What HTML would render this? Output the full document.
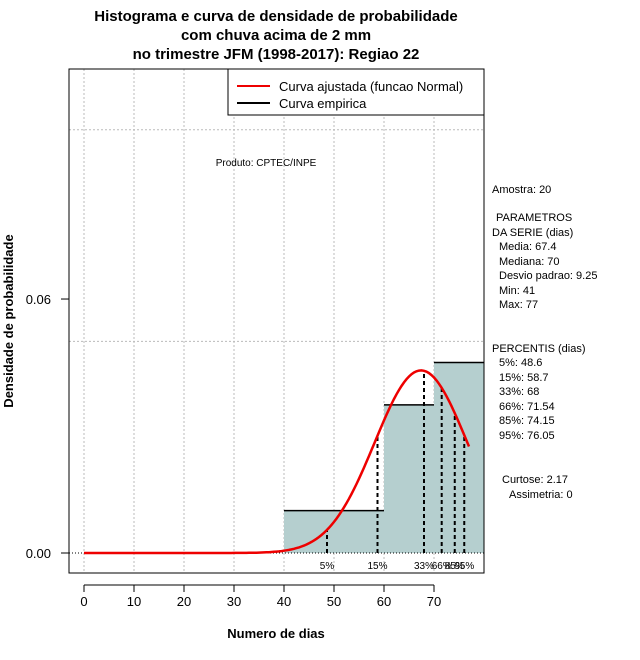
<!DOCTYPE html>
<html><head><meta charset="utf-8"><style>
body{margin:0;background:#fff}
svg{display:block;font-family:"Liberation Sans",sans-serif}
</style></head><body>
<svg id="c" width="640" height="660" xmlns="http://www.w3.org/2000/svg">
<rect width="640" height="660" fill="#fff"/>
<g font-weight="bold" font-size="15" text-anchor="middle">
<text x="276" y="21">Histograma e curva de densidade de probabilidade</text>
<text x="276" y="40">com chuva acima de 2 mm</text>
<text x="276" y="59">no trimestre JFM (1998-2017): Regiao 22</text>
</g>
<g id="grid"></g><g id="bars"></g><g id="marks"></g>
<rect x="69" y="69" width="415" height="504" fill="none" stroke="#000"/>
<g id="axes" font-size="13"></g>
<text x="276" y="638" font-size="13" font-weight="bold" text-anchor="middle">Numero de dias</text>
<text transform="translate(13,321) rotate(-90)" font-size="13" font-weight="bold" text-anchor="middle">Densidade de probabilidade</text>
<text x="266" y="166" font-size="10" text-anchor="middle">Produto: CPTEC/INPE</text>
<g>
<rect x="228" y="69" width="256" height="46" fill="#fff" stroke="#000"/>
<line x1="237" y1="86" x2="270" y2="86" stroke="#e00" stroke-width="2"/>
<text x="279" y="91" font-size="13">Curva ajustada (funcao Normal)</text>
<line x1="237" y1="103" x2="270" y2="103" stroke="#000" stroke-width="2"/>
<text x="279" y="108" font-size="13">Curva empirica</text>
</g>
<g font-size="11">
<text x="492" y="193">Amostra: 20</text>
<text x="496" y="221">PARAMETROS</text>
<text x="492" y="236">DA SERIE (dias)</text>
<text x="499" y="250">Media: 67.4</text>
<text x="499" y="265">Mediana: 70</text>
<text x="499" y="279">Desvio padrao: 9.25</text>
<text x="499" y="294">Min: 41</text>
<text x="499" y="308">Max: 77</text>
<text x="492" y="352">PERCENTIS (dias)</text>
<text x="499" y="366">5%: 48.6</text>
<text x="499" y="381">15%: 58.7</text>
<text x="499" y="395">33%: 68</text>
<text x="499" y="410">66%: 71.54</text>
<text x="499" y="424">85%: 74.15</text>
<text x="499" y="439">95%: 76.05</text>
<text x="502" y="483">Curtose: 2.17</text>
<text x="509" y="498">Assimetria: 0</text>
</g>
</svg>
<script>
const binEdges=[40,60,70,80];
const binDensity=[0.01,0.035,0.045];
const pctLabels=["5%","15%","33%","66%","85%","95%"];
const pctValues=[48.6,58.7,68,71.54,74.15,76.05];
const xTicks=[0,10,20,30,40,50,60,70];
const yTicks=[0,0.06];
const yGrid=[0.05,0.1];
const mean=67.4, sd=9.25, curveMin=0, curveMax=77;
const NS="http://www.w3.org/2000/svg";
const X=v=>84+v*5, Y=v=>553-v*4233;
const dens=x=>Math.exp(-0.5*((x-mean)/sd)**2)/(sd*Math.sqrt(2*Math.PI));
function mk(p,t,a){const e=document.createElementNS(NS,t);for(const k in a)e.setAttribute(k,a[k]);document.getElementById(p).appendChild(e);return e;}
for(let i=0;i<binDensity.length;i++){
 const r=mk('bars','rect',{x:X(binEdges[i]),y:Y(binDensity[i]),width:X(binEdges[i+1])-X(binEdges[i]),height:Y(0)-Y(binDensity[i]),fill:'#b5cfcf'});
 
 
 const l=mk('bars','line',{x1:X(binEdges[i]),x2:X(binEdges[i+1]),y1:Y(binDensity[i]),y2:Y(binDensity[i]),stroke:'#000','stroke-width':1.5});
 
 
}
for(let v=0;v<=80;v+=10){const g=mk('grid','line',{x1:X(v),x2:X(v),y1:69,y2:573,stroke:'#bbb','stroke-dasharray':'2,2'});}
yGrid.forEach(v=>{const g=mk('grid','line',{x1:69,x2:484,y1:Y(v),y2:Y(v),stroke:'#bbb','stroke-dasharray':'2,2'});});
const base=mk('marks','line',{x1:69,x2:484,y1:Y(0),y2:Y(0),stroke:'#000','stroke-dasharray':'1,2'});


pctValues.forEach((p,i)=>{
 const l=mk('marks','line',{x1:X(p),x2:X(p),y1:Y(0),y2:Y(dens(p)),stroke:'#000','stroke-width':2,'stroke-dasharray':'4,3'});
 
 
 const t=mk('marks','text',{x:X(p),y:569,'font-size':10,'text-anchor':'middle'});t.textContent=pctLabels[i];
 
 
});
let d='';for(let x=curveMin;x<=curveMax;x+=0.5)d+=(d?'L':'M')+X(x).toFixed(1)+','+Y(dens(x)).toFixed(1);
const c=mk('marks','path',{d:d,fill:'none',stroke:'#e00','stroke-width':2.5});


mk('axes','line',{x1:X(0),x2:X(70),y1:585,y2:585,stroke:'#000'});
xTicks.forEach(v=>{mk('axes','line',{x1:X(v),x2:X(v),y1:585,y2:592,stroke:'#000'});const t=mk('axes','text',{x:X(v),y:606,'text-anchor':'middle'});t.textContent=v;});
yTicks.forEach(v=>{mk('axes','line',{x1:61,x2:69,y1:Y(v),y2:Y(v),stroke:'#000'});const t=mk('axes','text',{x:51,y:Y(v)+5,'text-anchor':'end'});t.textContent=v.toFixed(2);});
</script>
</body></html>
